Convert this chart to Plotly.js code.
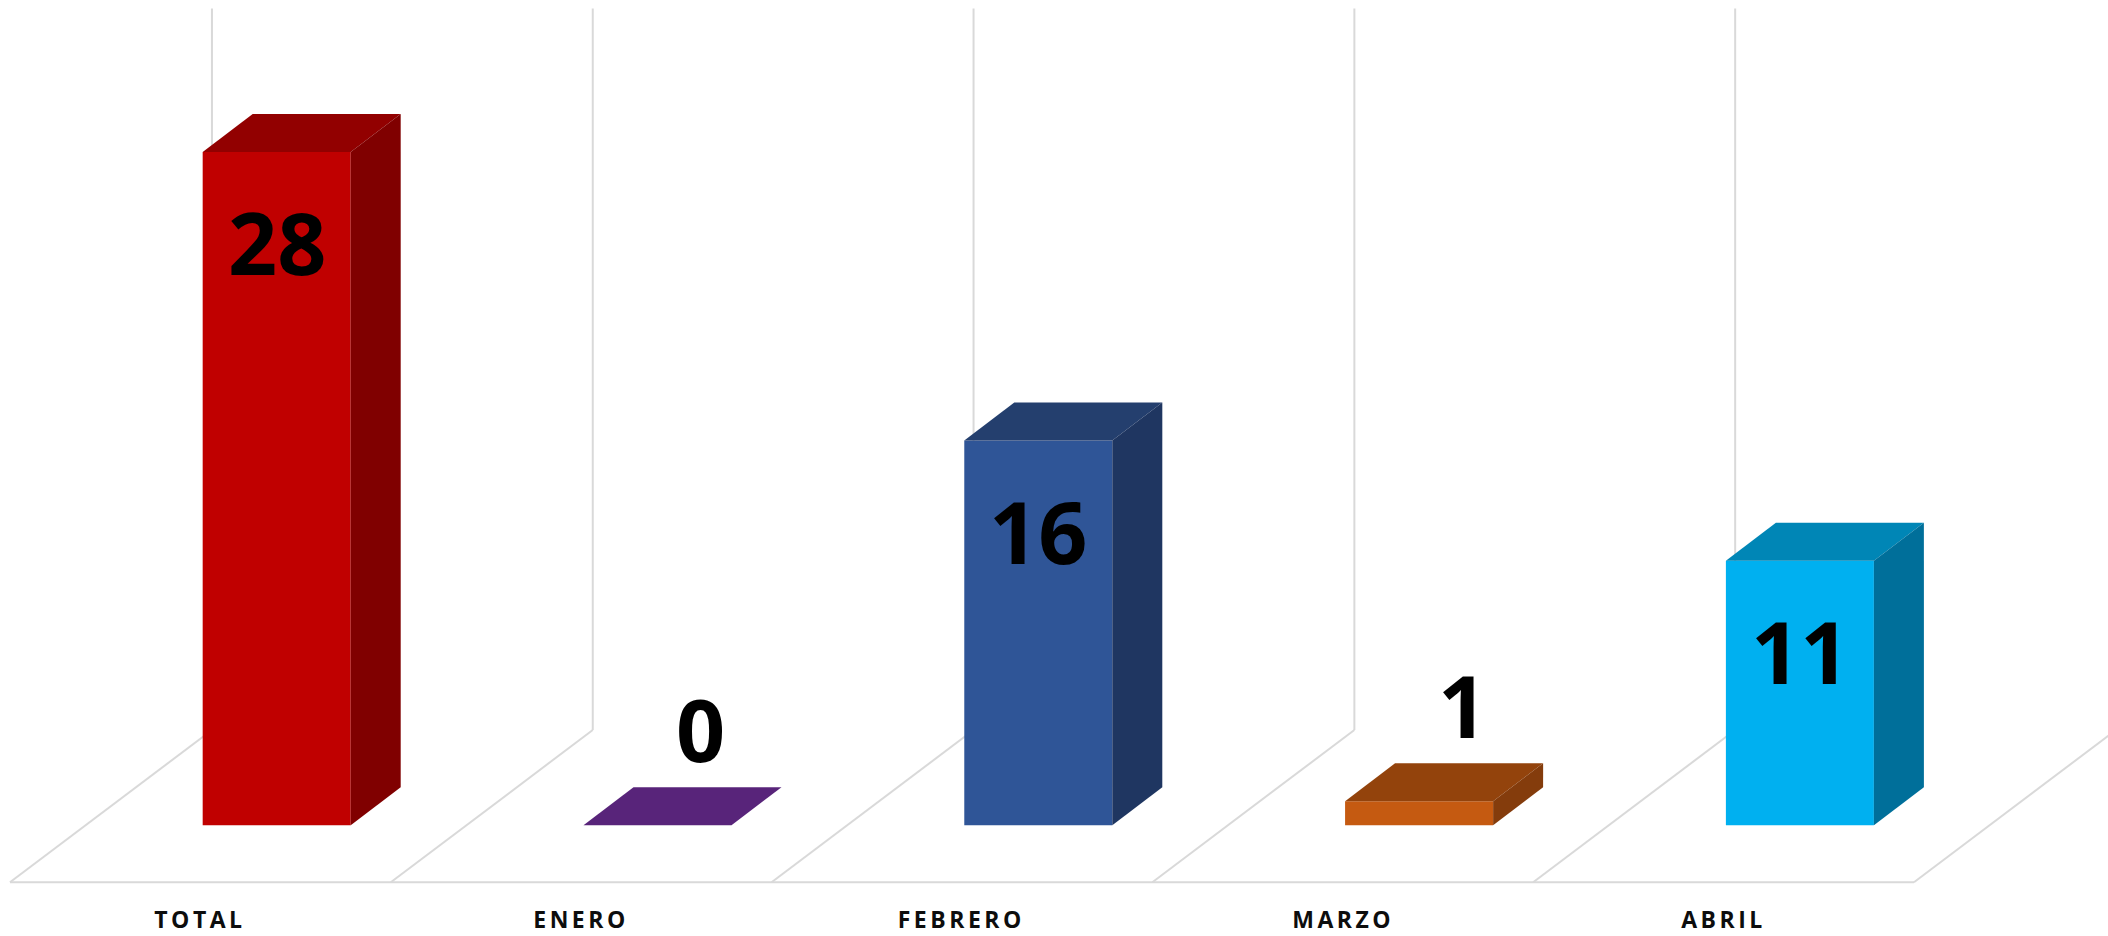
<!DOCTYPE html>
<html><head><meta charset="utf-8">
<script src="https://cdn.plot.ly/plotly-3.0.1.min.js"></script>
<style>html,body{margin:0;padding:0;background:#fff;overflow:hidden}#chart{width:2108px;height:936px}</style>
</head><body><div id="chart"></div>
<script>
const categories = ['TOTAL', 'ENERO', 'FEBRERO', 'MARZO', 'ABRIL'];
const values = [28, 0, 16, 1, 11];
const frontColors = ['#C00000', '#7030A0', '#2F5597', '#C55A11', '#00B0F0'];
const topColors = ['#920000', '#58247A', '#243F6E', '#93430C', '#0086B6'];
const sideColors = ['#800000', '#4A1E66', '#1F3661', '#843C0C', '#006F9A'];
const yMax = 30;

// 3D geometry, in category units (x) and value units (y)
const BAR_W = 0.3887, DX = 0.1313, DY = 1.58;
const FX0 = -0.2004, FY0 = -2.37, FX1 = 0.330, FY1 = 3.963;
const idx = categories.map((c, i) => i);

const traces = [{
  type: 'bar', x: idx, y: values, width: BAR_W,
  marker: {color: frontColors, line: {width: 0}}, hoverinfo: 'skip', showlegend: false
}];
idx.forEach(k => {
  const v = values[k], l = k - BAR_W / 2, r = k + BAR_W / 2;
  traces.push({
    type: 'scatter', mode: 'lines', fill: 'toself', fillcolor: topColors[k],
    line: {width: 0, color: topColors[k]}, hoverinfo: 'skip', showlegend: false,
    x: [l, r, r + DX, l + DX, l], y: [v, v, v + DY, v + DY, v]
  });
  if (v > 0) traces.push({
    type: 'scatter', mode: 'lines', fill: 'toself', fillcolor: sideColors[k],
    line: {width: 0, color: sideColors[k]}, hoverinfo: 'skip', showlegend: false,
    x: [r, r + DX, r + DX, r, r], y: [0, DY, v + DY, v, 0]
  });
});

const gridStyle = {color: '#D9D9D9', width: 2};
const shapes = [];
for (let k = 0; k <= categories.length; k++) {
  const b = k - 0.5;
  shapes.push({type: 'line', xref: 'x', yref: 'y', layer: 'below', x0: b + FX0, y0: FY0, x1: b + FX1, y1: FY1, line: gridStyle});
  shapes.push({type: 'line', xref: 'x', yref: 'y', layer: 'below', x0: b + FX1, y0: FY1, x1: b + FX1, y1: yMax + FY1, line: gridStyle});
}
shapes.push({type: 'line', xref: 'x', yref: 'y', layer: 'below', x0: -0.5 + FX0, y0: FY0, x1: categories.length - 0.5 + FX0, y1: FY0, line: gridStyle});

const annotations = [];
idx.forEach(k => {
  annotations.push({
    x: k + FX0, y: FY0, xref: 'x', yref: 'y', text: categories[k], showarrow: false,
    xanchor: 'center', yanchor: 'middle', yshift: -37,
    font: {family: 'Open Sans', size: 23, weight: 700, color: '#0D0D0D'}
  });
});
idx.forEach(k => {
  const v = values[k];
  const inside = v >= 5;
  annotations.push({
    x: k, y: inside ? v : v + DY, xref: 'x', yref: 'y', text: String(v), showarrow: false,
    xanchor: 'center', yanchor: 'middle',
    xshift: inside ? 0 : 43, yshift: inside ? -90 : 59,
    font: {family: 'Open Sans', size: 86, weight: 700, color: '#000000'}
  });
});

const layout = {
  width: 2108, height: 936, margin: {l: 0, r: 0, t: 0, b: 0},
  paper_bgcolor: '#FFFFFF', plot_bgcolor: '#FFFFFF', showlegend: false,
  xaxis: {range: [-0.7266, 4.8091], visible: false, fixedrange: true},
  yaxis: {range: [-4.603, 34.316], visible: false, fixedrange: true},
  shapes: shapes, annotations: annotations
};

Plotly.newPlot('chart', traces, layout, {displayModeBar: false, staticPlot: true}).then(gd => {
  const texts = gd.querySelectorAll('.annotation-text');
  for (let i = 0; i < categories.length; i++) {
    if (texts[i]) texts[i].style.letterSpacing = '3.5px';
  }
});
</script>
</body></html>
